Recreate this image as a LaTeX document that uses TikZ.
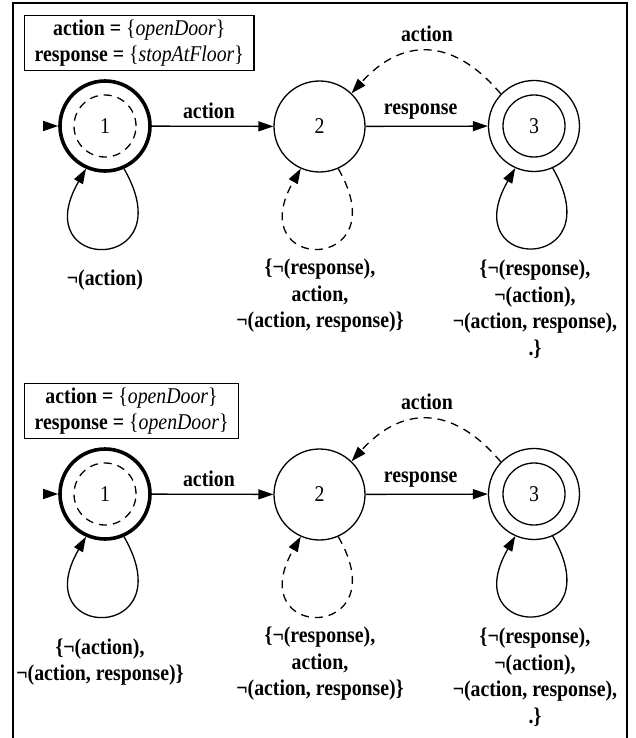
\documentclass[tikz,border=0pt]{standalone}
\usepackage{fontspec}
\setmainfont{Liberation Serif}[FakeStretch=0.88]
\usetikzlibrary{arrows.meta}
\begin{document}
\begin{tikzpicture}[x=1pt,y=-1pt,
  every node/.style={font=\fontsize{22.5}{26.5}\selectfont},
  st/.style={circle,draw,line width=1.3pt,minimum size=91pt,inner sep=0pt},
  initst/.style={st,line width=3.6pt,minimum size=90pt},
  edge/.style={line width=1.3pt,-{Triangle[length=15pt,width=10pt]}},
  dsh/.style={dash pattern=on 8pt off 6pt},
  lbl/.style={font=\fontsize{22.5}{26.5}\selectfont\bfseries,align=center},
  legend/.style={draw,line width=1.3pt,align=center,anchor=north west,inner xsep=10pt,inner ysep=4pt}
]
\useasboundingbox (0,0) rectangle (635,738);
\draw[line width=1.5pt] (13,738) -- (13,3) -- (627,3) -- (627,738);

% ---------- panel 1 ----------
\node[legend] (lega) at (24,15) {\textbf{action =} \{\textit{openDoor}\}\\\textbf{response =} \{\textit{stopAtFloor}\}};
\node[initst] (a1) at (105,126) {1};
\node[st] (a2) at (319.5,126.5) {2};
\node[st] (a3) at (534,126) {3};
\draw[line width=1.3pt,dsh] (a1.center) circle[radius=31pt];
\draw[line width=1.3pt] (a3.center) circle[radius=31pt];
\coordinate (a0) at (43,126);
\draw[edge] (a0) -- (a1.west);
\draw[edge] (a1) -- node[lbl,pos=0.47,yshift=15pt] {action} (a2);
\draw[edge] (a2) -- node[lbl,pos=0.45,yshift=15pt] {response} (a3);
\draw[edge,dsh] (a3.136) .. controls +(130:75pt) and +(48:75pt) .. node[lbl,pos=0.5,yshift=17pt] {action} (a2.46);
\draw[edge] (a1.-66) .. controls +(-60:122pt) and +(-120:122pt) .. (a1.-114);
\draw[edge,dsh] (a2.-66) .. controls +(-60:122pt) and +(-120:122pt) .. (a2.-114);
\draw[edge] (a3.-66) .. controls +(-60:122pt) and +(-120:122pt) .. (a3.-114);
\node[lbl] (la1) at (105,280) {¬(action)};
\node[lbl] (la2) at (320,296) {\{¬(response),\\action,\\¬(action, response)\}};
\node[lbl] (la3) at (535,309) {\{¬(response),\\¬(action),\\¬(action, response),\\.\}};

% ---------- panel 2 ----------
\node[legend] (legb) at (24,383) {\textbf{action =} \{\textit{openDoor}\}\\\textbf{response =} \{\textit{openDoor}\}};
\node[initst] (b1) at (105,494) {1};
\node[st] (b2) at (319.5,494.5) {2};
\node[st] (b3) at (534,494) {3};
\draw[line width=1.3pt,dsh] (b1.center) circle[radius=31pt];
\draw[line width=1.3pt] (b3.center) circle[radius=31pt];
\coordinate (b0) at (43,494);
\draw[edge] (b0) -- (b1.west);
\draw[edge] (b1) -- node[lbl,pos=0.47,yshift=15pt] {action} (b2);
\draw[edge] (b2) -- node[lbl,pos=0.45,yshift=15pt] {response} (b3);
\draw[edge,dsh] (b3.136) .. controls +(130:75pt) and +(48:75pt) .. node[lbl,pos=0.5,yshift=17pt] {action} (b2.46);
\draw[edge] (b1.-66) .. controls +(-60:122pt) and +(-120:122pt) .. (b1.-114);
\draw[edge,dsh] (b2.-66) .. controls +(-60:122pt) and +(-120:122pt) .. (b2.-114);
\draw[edge] (b3.-66) .. controls +(-60:122pt) and +(-120:122pt) .. (b3.-114);
\node[lbl] (lb1) at (100,662) {\{¬(action),\\¬(action, response)\}};
\node[lbl] (lb2) at (320,664) {\{¬(response),\\action,\\¬(action, response)\}};
\node[lbl] (lb3) at (535,677) {\{¬(response),\\¬(action),\\¬(action, response),\\.\}};
\end{tikzpicture}
\end{document}
